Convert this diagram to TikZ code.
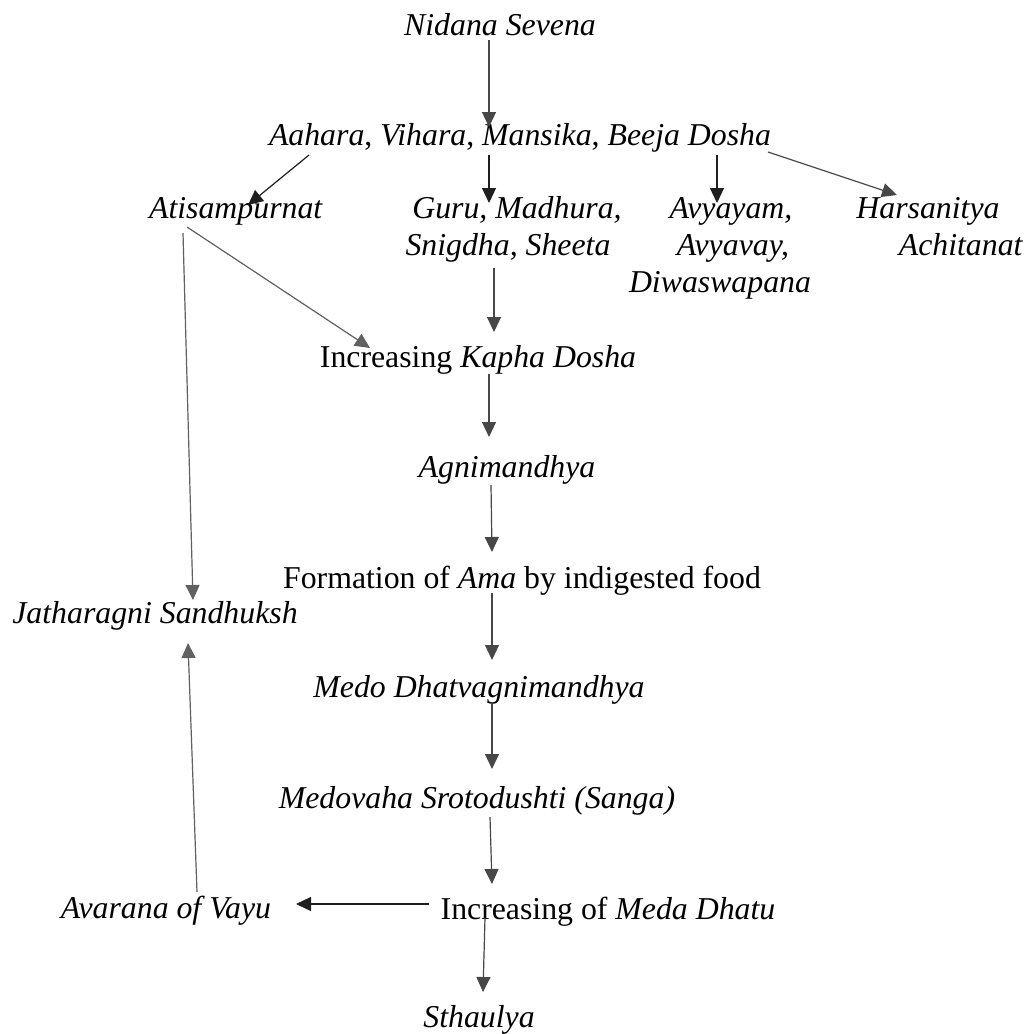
\documentclass[tikz,border=0pt]{standalone}
\usepackage{fontspec}
\setmainfont{Liberation Serif}
\usetikzlibrary{arrows.meta,calc}
\begin{document}
\begin{tikzpicture}[x=0.5pt,y=-0.5pt,
  lbl/.style={anchor=base,inner sep=0pt,font=\fontsize{15.9pt}{18.5pt}\selectfont},
  arr/.style={-{Triangle[length=7.5pt,width=7pt]},line width=0.6pt},
  dk/.style={arr,draw=black!88,fill=black!88},
  md/.style={arr,draw=black!72,fill=black!72},
  lt/.style={arr,draw=black!62,fill=black!62}]
\useasboundingbox (0,0) rectangle (1030,1034);
% nodes (center x, baseline y in px)
\node[lbl] (nid)  at (500,35)  {\textit{Nidana Sevena}};
\node[lbl] (aah)  at (520,145) {\textit{Aahara}, \textit{Vihara}, \textit{Mansika}, \textit{Beeja Dosha}};
\node[lbl] (ati)  at (236,218) {\textit{Atisampurnat}};
\node[lbl] (gur1) at (517,218) {\textit{Guru, Madhura,}};
\node[lbl] (gur2) at (508,255) {\textit{Snigdha, Sheeta}};
\node[lbl] (avy1) at (731,218) {\textit{Avyayam,}};
\node[lbl] (avy2) at (733,255) {\textit{Avyavay,}};
\node[lbl] (avy3) at (720,292) {\textit{Diwaswapana}};
\node[lbl] (har1) at (928,218) {\textit{Harsanitya}};
\node[lbl] (har2) at (961,255) {\textit{Achitanat}};
\node[lbl] (kap)  at (478,367) {Increasing \textit{Kapha Dosha}};
\node[lbl] (agn)  at (507,477) {\textit{Agnimandhya}};
\node[lbl] (for)  at (522,588) {Formation of \textit{Ama} by indigested food};
\node[lbl] (jat)  at (155,623) {\textit{Jatharagni Sandhuksh}};
\node[lbl] (med)  at (479,697) {\textit{Medo Dhatvagnimandhya}};
\node[lbl] (mdv)  at (477,808) {\textit{Medovaha Srotodushti (Sanga)}};
\node[lbl] (ava)  at (166,918) {\textit{Avarana of Vayu}};
\node[lbl] (mda)  at (608,919) {Increasing of \textit{Meda Dhatu}};
\node[lbl] (sth)  at (479,1027) {\textit{Sthaulya}};
% connectors
\draw[md] ($(nid.base)+(-11,5)$) -- ($(aah.base)+(-31,-18)$);
\draw[dk] ($(aah.base)+(-211,10)$) -- ($(ati.base)+(12,-13)$);
\draw[dk] ($(aah.base)+(-31,10)$) -- ($(gur1.base)+(-28,-15)$);
\draw[dk] ($(aah.base)+(197,10)$) -- ($(avy1.base)+(-14,-15)$);
\draw[md] ($(aah.base)+(248,7)$) -- ($(har1.base)+(-31,-23)$);
\draw[md] ($(gur2.base)+(-14,13)$) -- ($(kap.base)+(16,-35)$);
\draw[lt] ($(ati.base)+(-49,9)$) -- ($(kap.base)+(-108,-19)$);
\draw[lt] ($(ati.base)+(-53,15)$) -- ($(jat.base)+(38,-23)$);
\draw[md] ($(kap.base)+(11,7)$) -- ($(agn.base)+(-18,-40)$);
\draw[md] ($(agn.base)+(-16,8)$) -- ($(for.base)+(-30,-36)$);
\draw[md] ($(for.base)+(-30,5)$) -- ($(med.base)+(13,-37)$);
\draw[md] ($(med.base)+(13,6)$) -- ($(mdv.base)+(15,-39)$);
\draw[md] ($(mdv.base)+(13,9)$) -- ($(mda.base)+(-116,-35)$);
\draw[dk] ($(mda.base)+(-179,-15)$) -- ($(ava.base)+(130,-14)$);
\draw[md] ($(mda.base)+(-123,-1)$) -- ($(sth.base)+(4,-35)$);
\draw[lt] ($(ava.base)+(31,-26)$) -- ($(jat.base)+(33,20)$);
\end{tikzpicture}
\end{document}
